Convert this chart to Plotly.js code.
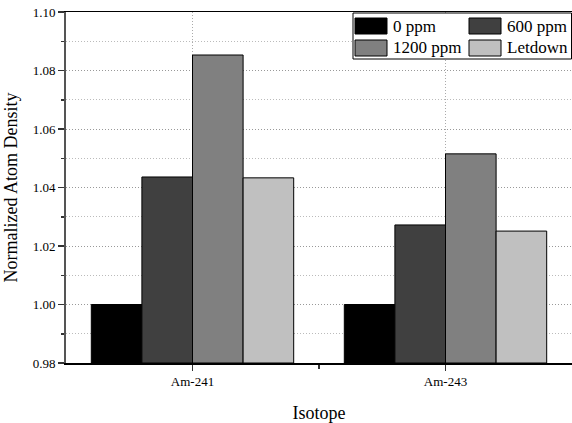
<!DOCTYPE html>
<html>
<head>
<meta charset="utf-8">
<script src="https://cdn.plot.ly/plotly-3.0.1.min.js"></script>
<style>html,body{margin:0;padding:0;background:#fff;}#chart{width:572px;height:423px;}</style>
</head>
<body>
<div id="chart"></div>
<script>
const isotopes = ["Am-241", "Am-243"];
const seriesNames = ["0 ppm", "600 ppm", "1200 ppm", "Letdown"];
const ppm0 = [1.000, 1.000];
const ppm600 = [1.0436, 1.0272];
const ppm1200 = [1.0853, 1.0515];
const letdown = [1.0433, 1.0251];
const seriesValues = [ppm0, ppm600, ppm1200, letdown];
const colors = ["#000000", "#404040", "#808080", "#c0c0c0"];
const SERIF = "Liberation Serif, Times New Roman, Times, serif";

const xpos = isotopes.map((_, i) => i);
const traces = seriesValues.map((vals, k) => ({
  type: "bar",
  x: xpos,
  y: vals.map(v => v - 0.98),
  base: 0.98,
  name: seriesNames[k],
  marker: {color: colors[k], line: {color: "#000", width: 1}},
  showlegend: false,
  hoverinfo: "skip"
}));

// plot area in pixels
const L = 66, T = 12, W = 506, H = 351;
const px = x => (x - L) / W;
const py = y => (T + H - y) / H;

const shapes = [];
const annotations = [];
// legend box
shapes.push({type: "rect", xref: "paper", yref: "paper", x0: px(353), x1: px(571.5), y0: py(59), y1: py(13),
  line: {color: "#000", width: 1}, fillcolor: "#fff", layer: "above"});
const legPos = [[355, 18], [469, 18], [355, 40], [469, 40]];
seriesNames.forEach((n, k) => {
  const [lx, ly] = legPos[k];
  shapes.push({type: "rect", xref: "paper", yref: "paper", x0: px(lx), x1: px(lx + 32), y0: py(ly + 16), y1: py(ly),
    line: {color: "#000", width: 1}, fillcolor: colors[k], layer: "above"});
  annotations.push({xref: "paper", yref: "paper", x: px(lx + 36), y: py(ly + 8), xanchor: "left", yanchor: "middle",
    text: n, showarrow: false, font: {family: SERIF, size: 17, color: "#000"}});
});

const layout = {
  width: 572, height: 423,
  margin: {l: L, r: 0, t: T, b: 423 - T - H},
  paper_bgcolor: "#fff", plot_bgcolor: "#fff",
  font: {family: SERIF, color: "#000"},
  barmode: "group", bargap: 0.2, bargroupgap: 0,
  xaxis: {
    range: [-0.5, 1.5], tickmode: "array", tickvals: xpos, ticktext: isotopes,
    showline: true, mirror: true, linecolor: "#000", linewidth: 1.5,
    ticks: "outside", ticklen: 6, tickcolor: "#333", tickwidth: 1.5,
    showgrid: true, gridcolor: "#aaaaaa", griddash: "1px,2px", gridwidth: 1,
    minor: {tickvals: [0.5], ticks: "outside", ticklen: 4, tickcolor: "#333", showgrid: false},
    tickfont: {family: SERIF, size: 13}, zeroline: false,
    title: {text: "Isotope", font: {family: SERIF, size: 18}, standoff: 22}
  },
  yaxis: {
    range: [0.98, 1.10], tickmode: "linear", tick0: 0.98, dtick: 0.02, tickformat: ".2f",
    showline: true, linecolor: "#555", linewidth: 2,
    ticks: "outside", ticklen: 6, tickcolor: "#333", tickwidth: 1.5,
    showgrid: true, gridcolor: "#999999", griddash: "1px,2px", gridwidth: 1,
    minor: {dtick: 0.01, ticks: "outside", ticklen: 3, tickcolor: "#333", showgrid: true, gridcolor: "#bbbbbb", griddash: "1px,2px", gridwidth: 1},
    tickfont: {family: SERIF, size: 13}, zeroline: false,
    title: {text: "Normalized Atom Density", font: {family: SERIF, size: 18}, standoff: 10}
  },
  shapes: shapes,
  annotations: annotations
};

Plotly.newPlot("chart", traces, layout, {displayModeBar: false, staticPlot: true});
</script>
</body>
</html>
